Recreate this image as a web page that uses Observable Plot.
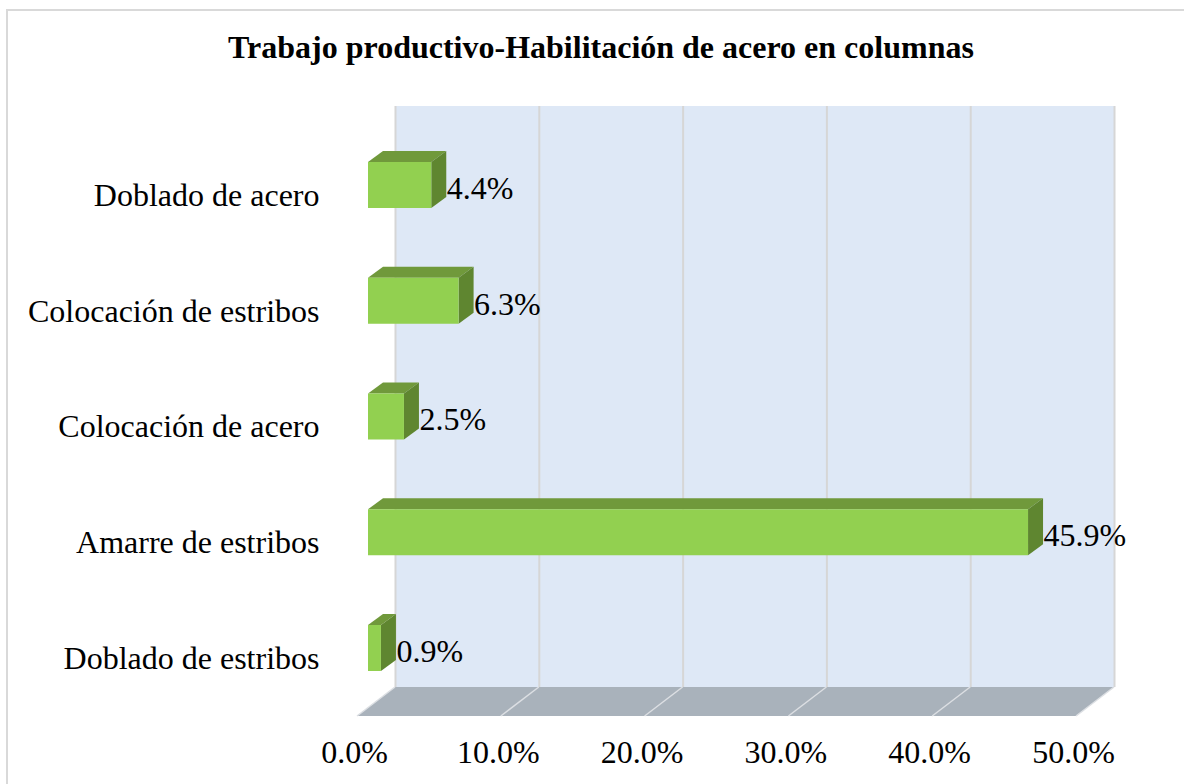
<!DOCTYPE html>
<html><head><meta charset="utf-8">
<script src="https://cdn.jsdelivr.net/npm/d3@7"></script>
<script src="https://cdn.jsdelivr.net/npm/@observablehq/plot@0.6"></script>
<style>
html,body{margin:0;padding:0;background:#fff;width:1184px;height:784px;overflow:hidden;}
#frame{position:absolute;left:6px;top:9px;width:1300px;height:900px;border-left:2px solid #d9d9d9;border-top:2px solid #d9d9d9;box-sizing:border-box;}
#title{position:absolute;left:0;top:31px;width:1202px;text-align:center;font:bold 32px/32px "Liberation Serif","Times New Roman",serif;color:#000;white-space:nowrap;}
#chart{position:absolute;left:0;top:90px;}
#chart svg text{font-family:"Liberation Serif","Times New Roman",serif;font-variant:normal;font-variant-numeric:normal;}
</style></head><body>
<div id="frame"></div>
<div id="title">Trabajo productivo-Habilitación de acero en columnas</div>
<div id="chart"></div>
<script>
const categories = ["Doblado de acero", "Colocación de estribos", "Colocación de acero", "Amarre de estribos", "Doblado de estribos"];
const values = [4.4, 6.3, 2.5, 45.9, 0.9];
const xTicks = [0, 10, 20, 30, 40, 50];

const data = categories.map((c, i) => ({category: c, value: values[i]}));

const DEPTH_X = 15, DEPTH_Y = 11;      // bar depth
const WALL_DX = 27;                     // back wall offset from bar front plane
const FLOOR_DX = -11, FLOOR_DY = 29;    // floor front edge offset
const PAD = 0.6026;
const FONT = '"Liberation Serif","Times New Roman",serif';

const FRONT = "#92d050", TOP = "#70993b", SIDE = "#5f8630";

function floorMark(index, scales, values, dims) {
  const x = scales.x;
  const yb = dims.height - dims.marginBottom;
  const g = d3.create("svg:g");
  const a = x(xTicks[0]), b = x(xTicks[xTicks.length - 1]);
  g.append("path")
    .attr("d", `M${a + WALL_DX},${yb}L${b + WALL_DX},${yb}L${b + FLOOR_DX},${yb + FLOOR_DY}L${a + FLOOR_DX},${yb + FLOOR_DY}Z`)
    .attr("fill", "#a9b2bb");
  for (const t of xTicks) {
    g.append("line")
      .attr("x1", x(t) + WALL_DX).attr("y1", yb)
      .attr("x2", x(t) + FLOOR_DX).attr("y2", yb + FLOOR_DY)
      .attr("stroke", "#dcdfe3").attr("stroke-width", 1.5);
  }
  return g.node();
}

function barFaces(index, scales, values, dims) {
  const x = scales.x, y = scales.y;
  const bw = y.bandwidth ? y.bandwidth() : 46;
  const g = d3.create("svg:g");
  for (const d of data) {
    const x0 = x(0), x1 = x(d.value), yt = y(d.category), yb = yt + bw;
    g.append("path")
      .attr("d", `M${x0},${yt}L${x1},${yt}L${x1 + DEPTH_X},${yt - DEPTH_Y}L${x0 + DEPTH_X},${yt - DEPTH_Y}Z`)
      .attr("fill", TOP);
    g.append("path")
      .attr("d", `M${x1},${yt}L${x1 + DEPTH_X},${yt - DEPTH_Y}L${x1 + DEPTH_X},${yb - DEPTH_Y}L${x1},${yb}Z`)
      .attr("fill", SIDE);
  }
  return g.node();
}

const chart = Plot.plot({
  width: 1184,
  height: 694,
  marginLeft: 368,
  marginRight: 97,
  marginTop: 16,
  marginBottom: 97,
  style: {fontFamily: FONT, fontSize: "32px", color: "#000", background: "transparent", overflow: "visible"},
  x: {domain: [0, 50]},
  y: {domain: categories, range: [2.25, 650.75], padding: PAD, round: false},
  marks: [
    Plot.rect([0], {x1: xTicks[0], x2: xTicks[xTicks.length - 1], dx: WALL_DX, fill: "#dee8f6"}),
    Plot.ruleX(xTicks, {dx: WALL_DX, stroke: "#d6d6d6", strokeWidth: 2}),
    floorMark,
    barFaces,
    Plot.barX(data, {x: "value", y: "category", fill: FRONT}),
    Plot.text(data, {x: "value", y: "category", text: d => d.value.toFixed(1) + "%", textAnchor: "start", dx: DEPTH_X, dy: 3, fontSize: 32, fontFamily: FONT, fontVariant: "normal", fill: "#000"}),
    Plot.axisY({tickSize: 0, tickPadding: 49, dy: 10, fontSize: 32, fontFamily: FONT, fontVariant: "normal", label: null}),
    Plot.axisX({ticks: xTicks, tickSize: 0, tickPadding: 53, dx: FLOOR_DX - 3, fontSize: 32, fontFamily: FONT, fontVariant: "normal", label: null, tickFormat: d => d.toFixed(1) + "%"})
  ]
});
document.getElementById("chart").appendChild(chart);
</script>
</body></html>
